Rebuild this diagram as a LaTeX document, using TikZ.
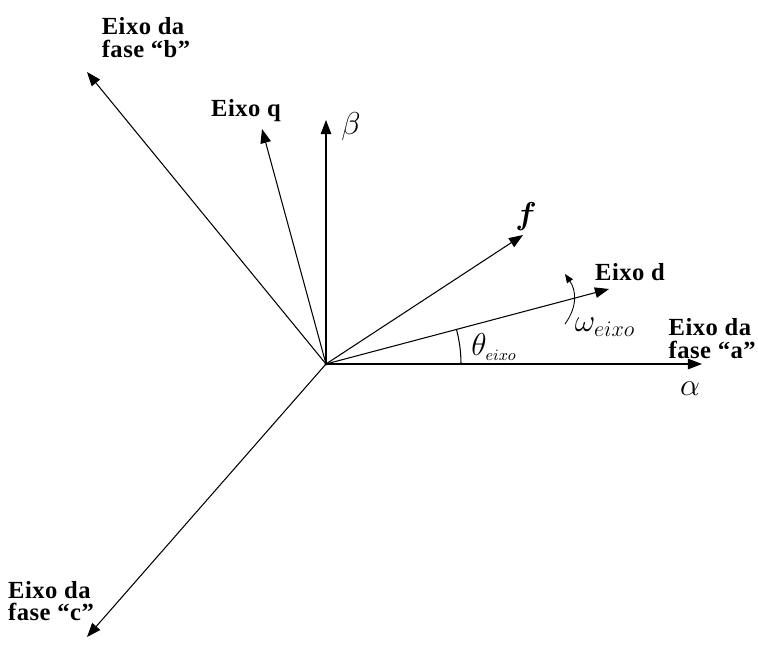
\documentclass[tikz,border=0pt]{standalone}
\usepackage{amsmath, amssymb}
\usepackage{fix-cm}
\usepackage{fontspec}
\setmainfont{Liberation Serif}
\usetikzlibrary{arrows.meta}

\begin{document}
\begin{tikzpicture}[x=0.02cm, y=-0.02cm, >={Triangle[length=8pt,width=6pt]},
  axis/.style={->, line width=0.6pt},
  eixolbl/.style={font=\fontsize{14}{13}\selectfont\bfseries\addfontfeature{LetterSpace=2}, align=left, inner sep=0pt},
  mathlbl/.style={font=\fontsize{18}{20}\selectfont, inner sep=0pt}]
  \useasboundingbox (0,0) rectangle (758,646);
  % origin and axis tips
  \coordinate (O) at (326,364);
  \coordinate (alpha) at (702,364);
  \coordinate (beta) at (326,120);
  \coordinate (q) at (262,129);
  \coordinate (b) at (87,72);
  \coordinate (f) at (523,235);
  \coordinate (d) at (609,289);
  \coordinate (c) at (87,637);
  % axes
  \foreach \tip in {alpha, beta, q, b, f, d, c}
    \draw[axis] (O) -- (\tip);
  \fill (O) circle (1.6);
  % angle theta and rotation omega
  \draw[line width=0.6pt] ([shift={(0:135)}]O) arc (0:-14.8:135);
  \draw[->, line width=0.5pt, >={Triangle[length=5pt,width=4pt]}]
    (565,324) .. controls (578,306) and (576,290) .. (565,274);
  % labels
  \node[eixolbl] (lblb) at (146,38) {Eixo da\\fase “b”};
  \node[eixolbl] (lblq) at (246,111) {Eixo q};
  \node[eixolbl] (lbld) at (630,272) {Eixo d};
  \node[eixolbl, anchor=east] (lbla) at (756,339) {Eixo da\\fase “a”};
  \node[eixolbl] (lblc) at (51,601) {Eixo da\\fase “c”};
  \node[mathlbl] (lblbeta) at (351,127) {$\beta$};
  \node[mathlbl] (lblalpha) at (690,389) {$\alpha$};
  \node[mathlbl] (lblf) at (526,217) {$\boldsymbol{f}$};
  \node[mathlbl] (lblomega) at (605,327) {$\omega_{eixo}$};
  \node[mathlbl] (lbltheta) at (494,347) {$\theta_{\scriptscriptstyle eixo}$};
\end{tikzpicture}
\end{document}
